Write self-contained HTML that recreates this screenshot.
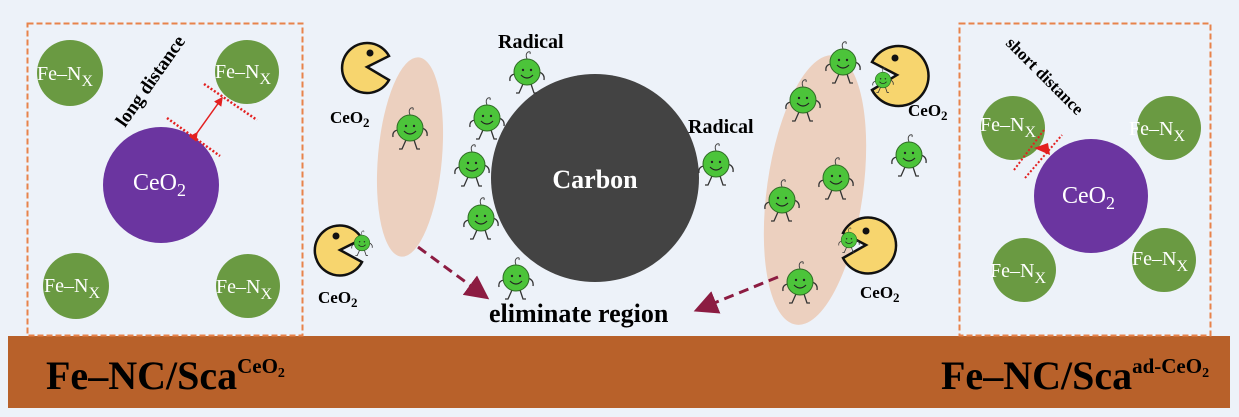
<!DOCTYPE html>
<html><head><meta charset="utf-8"><style>
html,body{margin:0;padding:0;background:#edf2f9;}
svg{display:block}
text{font-family:"Liberation Serif",serif;}
</style></head><body>
<svg width="1239" height="417" viewBox="0 0 1239 417" xmlns="http://www.w3.org/2000/svg">
<defs>
<g id="rad">
  <path d="M0,-13 q-2,-5 1,-7 q3,-1 2,2" fill="none" stroke="#444" stroke-width="1"/>
  <path d="M-12,2 q-6,1 -5,7 M12,0 q6,2 5,8 M-4,12 l-4,9 l-3,0 M4,12 l3,9 l3,0" fill="none" stroke="#333" stroke-width="1.3"/>
  <circle r="13" fill="#4cc43a" stroke="#2f6a25" stroke-width="1"/>
  <circle cx="-4" cy="-2" r="1.2" fill="#222"/><circle cx="4" cy="-2" r="1.2" fill="#222"/>
  <path d="M-6,3 q6,6 12,0" fill="none" stroke="#222" stroke-width="1.2"/>
</g>
<marker id="ah" markerWidth="8" markerHeight="8" refX="5" refY="4" orient="auto"><path d="M0,0 L8,4 L0,8 z" fill="#8c1c42"/></marker>
<marker id="ra" markerWidth="6" markerHeight="6" refX="5" refY="3" orient="auto"><path d="M0,0 L6,3 L0,6 z" fill="#e32020"/></marker>
</defs>
<rect width="1239" height="417" fill="#edf2f9"/>
<rect x="8" y="336" width="1222" height="72" fill="#b8612a"/>
<text x="46" y="389" font-size="40" font-weight="bold">Fe–NC/Sca<tspan font-size="21" dy="-16">CeO</tspan><tspan font-size="14" dy="4">2</tspan></text>
<text x="941" y="389" font-size="40" font-weight="bold">Fe–NC/Sca<tspan font-size="21" dy="-16">ad-CeO</tspan><tspan font-size="14" dy="4">2</tspan></text>
<rect x="27.5" y="23.5" width="275" height="312" fill="none" stroke="#e8834a" stroke-width="2" stroke-dasharray="6,3"/>
<rect x="959.5" y="23.5" width="251" height="312" fill="none" stroke="#e8834a" stroke-width="2" stroke-dasharray="6,3"/>
<g fill="#6a9a42"><circle cx="70" cy="73" r="33"/><circle cx="247" cy="72" r="32"/><circle cx="76" cy="286" r="33"/><circle cx="248" cy="286" r="32"/></g>
<circle cx="161" cy="185" r="58" fill="#6b35a0"/>
<g fill="#fff" font-size="20"><text x="37" y="80">Fe–N<tspan font-size="16" dy="6">X</tspan></text>
<text x="215" y="78">Fe–N<tspan font-size="16" dy="6">X</tspan></text>
<text x="44" y="292">Fe–N<tspan font-size="16" dy="6">X</tspan></text>
<text x="216" y="293">Fe–N<tspan font-size="16" dy="6">X</tspan></text>
<text x="133" y="190" font-size="24">CeO<tspan font-size="18" dy="6">2</tspan></text></g>
<text x="0" y="0" font-size="19" font-weight="bold" transform="translate(125,128) rotate(-55)">long distance</text>
<path d="M204,84 L257,120 M167,118 L220,156" stroke="#e32020" stroke-width="2.5" stroke-dasharray="2,2"/>
<line x1="197" y1="133" x2="222" y2="98" stroke="#e32020" stroke-width="1.5" marker-start="url(#ra)" marker-end="url(#ra)"/>
<g fill="#6a9a42"><circle cx="1013" cy="128" r="32"/><circle cx="1169" cy="128" r="32"/><circle cx="1024" cy="270" r="32"/><circle cx="1164" cy="260" r="32"/></g>
<circle cx="1091" cy="196" r="57" fill="#6b35a0"/>
<g fill="#fff" font-size="20"><text x="980" y="131">Fe–N<tspan font-size="16" dy="6">X</tspan></text>
<text x="1129" y="135">Fe–N<tspan font-size="16" dy="6">X</tspan></text>
<text x="990" y="277">Fe–N<tspan font-size="16" dy="6">X</tspan></text>
<text x="1132" y="265">Fe–N<tspan font-size="16" dy="6">X</tspan></text>
<text x="1062" y="203" font-size="24">CeO<tspan font-size="18" dy="6">2</tspan></text></g>
<text x="0" y="0" font-size="17" font-weight="bold" transform="translate(1005,44) rotate(45)">short distance</text>
<path d="M1014,170 L1044,130 M1025,178 L1062,135" stroke="#e32020" stroke-width="2" stroke-dasharray="2,2"/>
<path d="M1034,148 L1048,143 L1050,155 z" fill="#e32020"/>
<ellipse cx="410" cy="157" rx="32" ry="100" fill="#ecd0bf" transform="rotate(5 410 157)"/>
<ellipse cx="815" cy="190" rx="48" ry="136" fill="#ecd0bf" transform="rotate(8 815 190)"/>
<circle cx="595" cy="178" r="104" fill="#434343"/>
<text x="595" y="188" font-size="26" font-weight="bold" fill="#fff" text-anchor="middle">Carbon</text>
<g stroke="#111" stroke-width="2.5" fill="#f7d56e">
<path d="M367,67 L389,56 A25,25 0 1,0 389,80 Z"/>
<path d="M340,250 L362,239 A25,25 0 1,0 362,262 Z"/>
<path d="M897,75 L872,62 A30,30 0 1,1 872,90 Z"/>
<path d="M866,245 L843,233 A28,28 0 1,1 843,258 Z"/>
</g>
<g fill="#111"><circle cx="370" cy="53" r="3.5"/><circle cx="336" cy="236" r="3.5"/><circle cx="895" cy="58" r="3.5"/><circle cx="866" cy="231" r="3.5"/></g>
<use href="#rad" x="527" y="72"/><use href="#rad" x="487" y="118"/><use href="#rad" x="472" y="165"/>
<use href="#rad" x="481" y="218"/><use href="#rad" x="516" y="278"/><use href="#rad" x="410" y="128"/>
<use href="#rad" x="716" y="164"/><use href="#rad" x="843" y="62"/><use href="#rad" x="803" y="100"/>
<use href="#rad" x="836" y="178"/><use href="#rad" x="909" y="155"/><use href="#rad" x="782" y="200"/>
<use href="#rad" x="800" y="282"/>
<use href="#rad" transform="translate(362,243) scale(0.6)"/>
<use href="#rad" transform="translate(883,80) scale(0.6)"/>
<use href="#rad" transform="translate(849,240) scale(0.6)"/>
<g font-weight="bold" font-size="17">
<text x="498" y="48" font-size="20">Radical</text><text x="688" y="133" font-size="20">Radical</text>
<text x="330" y="123">CeO<tspan font-size="13" dy="4">2</tspan></text>
<text x="318" y="303">CeO<tspan font-size="13" dy="4">2</tspan></text>
<text x="908" y="116">CeO<tspan font-size="13" dy="4">2</tspan></text>
<text x="860" y="298">CeO<tspan font-size="13" dy="4">2</tspan></text>
</g>
<text x="489" y="322" font-size="26" font-weight="bold">eliminate region</text>
<line x1="418" y1="247" x2="482" y2="294" stroke="#8c1c42" stroke-width="3" stroke-dasharray="10,6" marker-end="url(#ah)"/>
<line x1="778" y1="277" x2="702" y2="308" stroke="#8c1c42" stroke-width="3" stroke-dasharray="10,6" marker-end="url(#ah)"/>
</svg>
</body></html>
